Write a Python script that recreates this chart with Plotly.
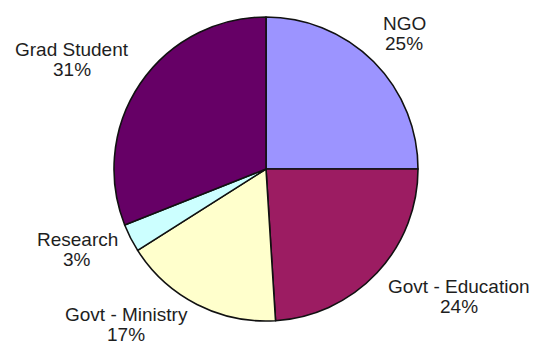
import plotly.graph_objects as go

# Survey respondents by sector (percent)
sectors = ["NGO", "Govt - Education", "Govt - Ministry", "Research", "Grad Student"]
shares = [25, 24, 17, 3, 31]
slice_colors = ["#9c94ff", "#9c1c62", "#ffffcc", "#ccffff", "#660066"]

W, H = 542, 358
cx, cy, r = 266, 169, 152

fig = go.Figure(
    go.Pie(
        labels=sectors,
        values=shares,
        sort=False,
        direction="clockwise",
        rotation=0,
        textinfo="none",
        hoverinfo="label+percent",
        marker=dict(colors=slice_colors, line=dict(color="#111111", width=1.6)),
        domain=dict(
            x=[(cx - r) / W, (cx + r) / W],
            y=[(H - cy - r) / H, (H - cy + r) / H],
        ),
        showlegend=False,
    )
)

# label anchor points (pixel centres of name line, percent line below)
label_pos = {
    "NGO": (404, 23),
    "Govt - Education": (459, 286),
    "Govt - Ministry": (126, 314),
    "Research": (77, 239),
    "Grad Student": (72, 49),
}
line_gap = 20.5

annotations = []
for name, val in zip(sectors, shares):
    x, y = label_pos[name]
    for i, txt in enumerate([name, f"{val}%"]):
        annotations.append(
            dict(
                x=x / W,
                y=1 - (y + i * line_gap) / H,
                xref="paper",
                yref="paper",
                text=txt,
                showarrow=False,
                xanchor="center",
                yanchor="middle",
                font=dict(family="Liberation Sans, Arial, sans-serif", size=19, color="#1e1e1e"),
            )
        )

fig.update_layout(
    width=W,
    height=H,
    margin=dict(l=0, r=0, t=0, b=0),
    paper_bgcolor="white",
    plot_bgcolor="white",
    annotations=annotations,
)

fig.write_html("out.html")
